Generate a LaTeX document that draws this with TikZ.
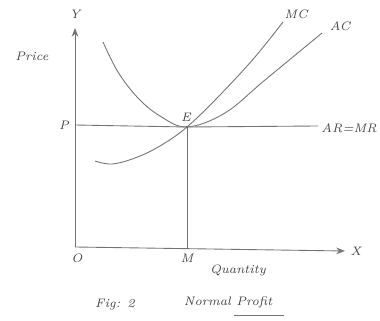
\documentclass[tikz,border=0pt]{standalone}
\usetikzlibrary{arrows.meta}
\tikzset{
  pencil/.style={draw=black!55, line width=0.5pt},
  lbl/.style={font=\scriptsize\itshape, text=black!75, inner sep=1pt}
}
\begin{document}
\begin{tikzpicture}[x=0.02cm,y=-0.02cm]
\useasboundingbox (0,0) rectangle (380,321);
\coordinate (o) at (75,247);
\coordinate (ytop) at (75,28);
\coordinate (xend) at (345,251);
\coordinate (e) at (187,127);
\coordinate (p) at (75,125);
\coordinate (m) at (187,249);
\coordinate (armr) at (318,126);
\draw[pencil,-{Stealth[length=5pt]}] (o)--(ytop);
\draw[pencil,-{Stealth[length=5pt]}] (o)--(xend);
\draw[pencil] (p)--(e)--(armr);
\draw[pencil] (e)--(m);
\fill[black!70] (e) circle (1.3);
% MC and AC
\draw[pencil] plot[smooth,tension=0.6] coordinates {(95,161) (112,164) (135,158) (160,146) (187,127) (220,95) (255,57) (283,22)};
\draw[pencil] plot[smooth,tension=0.6] coordinates {(103,42) (118,72) (138,98) (160,116) (187,127) (225,113) (265,80) (322,33)};
\node[lbl] (ylab) at (75,14) {Y};
\node[lbl] (price) at (32,56) {Price};
\node[lbl] (plab) at (64,125) {P};
\node[lbl] (elab) at (186,117) {E};
\node[lbl] (mc) at (296,14) {MC};
\node[lbl] (ac) at (340,26) {AC};
\node[lbl,anchor=east] (armrlab) at (379,128) {AR=MR};
\node[lbl] (olab) at (77,258) {O};
\node[lbl] (mlab) at (187,258) {M};
\node[lbl] (xlab) at (356,251) {X};
\node[lbl] (qty) at (238,270) {Quantity};
\node[lbl] (fig) at (115,305) {Fig: 2};
\node[lbl] (np) at (228,302) {Normal Profit};
\draw[pencil] (np.south east) ++(-40,6) -- ++(50,0);
\end{tikzpicture}
\end{document}
